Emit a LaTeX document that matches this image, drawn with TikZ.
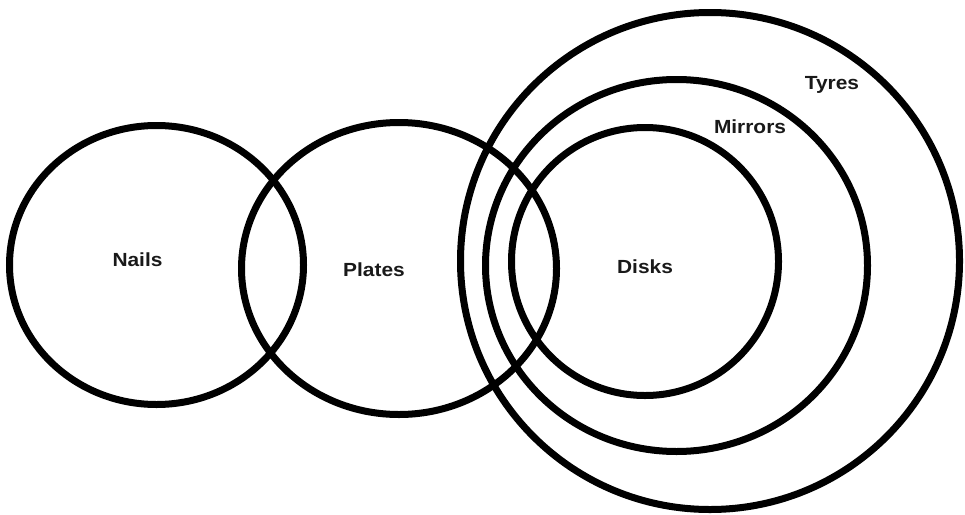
\documentclass[tikz,border=0pt]{standalone}
\usepackage{fontspec}
\usepackage{graphicx}
\setmainfont{Liberation Sans}
\usetikzlibrary{shapes.geometric}
\newcommand{\widelabel}[1]{\scalebox{1.1}[1]{#1}}
\begin{document}
\begin{tikzpicture}[x=1pt,y=-1pt,
  setring/.style={draw=black, line width=7pt, ellipse, inner sep=0pt, fill=none},
  setlabel/.style={font=\fontsize{19}{22}\selectfont\bfseries, text=black!90, inner sep=0pt}]
\useasboundingbox[fill=white] (0,0) rectangle (965,514);
\node[setring, minimum width=294pt, minimum height=279pt] (nails) at (156.5,265) {};
\node[setring, minimum width=315pt, minimum height=292pt] (plates) at (399,268.5) {};
\node[setring, minimum width=267pt, minimum height=268pt] (disks) at (645,261.5) {};
\node[setring, minimum width=382pt, minimum height=372pt] (mirrors) at (676.5,265.5) {};
\node[setring, minimum width=499pt, minimum height=497pt] (tyres) at (710,261) {};
\node[setlabel] (lnails) at (137.5,260) {\widelabel{Nails}};
\node[setlabel] (lplates) at (374,270) {\widelabel{Plates}};
\node[setlabel] (ldisks) at (645,267) {\widelabel{Disks}};
\node[setlabel] (lmirrors) at (750,127) {\widelabel{Mirrors}};
\node[setlabel] (ltyres) at (832,85) {\widelabel{Tyres}};
\end{tikzpicture}
\end{document}
